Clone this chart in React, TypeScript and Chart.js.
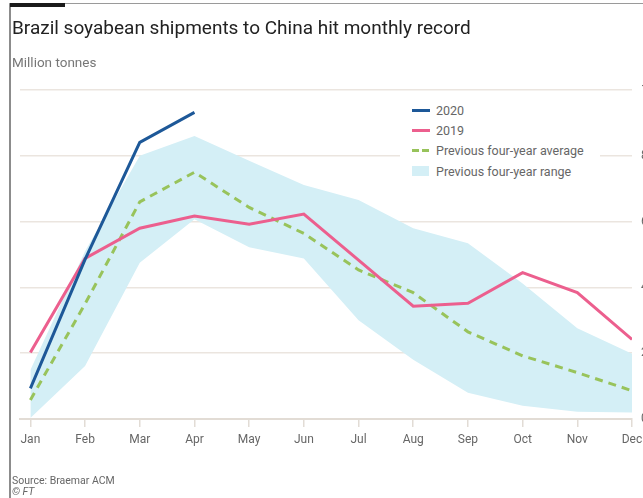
import React, { useEffect, useRef } from "react";
import { Chart, registerables } from "chart.js";

Chart.register(...registerables);

const MONTHS = ["Jan", "Feb", "Mar", "Apr", "May", "Jun", "Jul", "Aug", "Sep", "Oct", "Nov", "Dec"];
const SHIP_2020 = [0.93, 4.85, 8.41, 9.32];
const SHIP_2019 = [2.02, 4.88, 5.8, 6.17, 5.92, 6.23, 4.83, 3.43, 3.52, 4.45, 3.84, 2.42];
const AVG_4YR = [0.58, 3.5, 6.6, 7.5, 6.43, 5.64, 4.53, 3.84, 2.65, 1.92, 1.41, 0.86];
const RANGE_HIGH = [1.49, 5.1, 8.0, 8.6, 7.85, 7.11, 6.66, 5.8, 5.34, 4.12, 2.76, 1.98];
const RANGE_LOW = [0.03, 1.61, 4.75, 6.07, 5.22, 4.88, 3.0, 1.8, 0.8, 0.4, 0.22, 0.2];
const Y_MIN = 0;
const Y_MAX = 10;
const Y_STEP = 2;

const FONT = "Roboto, 'Noto Sans', sans-serif";
const C2020 = "#1d5898";
const C2019 = "#ec5f8e";
const CAVG = "#98c35b";
const CRANGE = "#d4eff6";
const GRID = "#ebe5df";
const TEXT = "#666666";

const pts = (arr: number[]) => arr.map((v, i) => ({ x: i, y: v }));

export default function App() {
  const ref = useRef<HTMLCanvasElement | null>(null);

  useEffect(() => {
    if (!ref.current) return;
    const chart = new Chart(ref.current, {
      type: "line",
      data: {
        datasets: [
          {
            label: "2020",
            data: pts(SHIP_2020),
            borderColor: C2020,
            borderWidth: 3,
            pointRadius: 0,
            fill: false,
            tension: 0,
          },
          {
            label: "2019",
            data: pts(SHIP_2019),
            borderColor: C2019,
            borderWidth: 3,
            pointRadius: 0,
            fill: false,
            tension: 0,
          },
          {
            label: "Previous four-year average",
            data: pts(AVG_4YR),
            borderColor: CAVG,
            borderWidth: 3,
            borderDash: [8, 6],
            pointRadius: 0,
            fill: false,
            tension: 0,
          },
          {
            label: "Previous four-year range",
            data: pts(RANGE_HIGH),
            borderWidth: 0,
            borderColor: "rgba(0,0,0,0)",
            backgroundColor: CRANGE,
            pointRadius: 0,
            fill: "+1",
            tension: 0,
          },
          {
            label: "range-low",
            data: pts(RANGE_LOW),
            borderWidth: 0,
            borderColor: "rgba(0,0,0,0)",
            pointRadius: 0,
            fill: false,
            tension: 0,
          },
        ],
      },
      options: {
        responsive: false,
        animation: false,
        layout: { padding: { left: 20, top: 90, right: 0, bottom: 39 } },
        plugins: { legend: { display: false }, tooltip: { enabled: false }, title: { display: false } },
        scales: {
          x: {
            type: "linear",
            min: -0.19,
            max: MONTHS.length - 1,
            afterBuildTicks: (scale: any) => {
              scale.ticks = MONTHS.map((_, i) => ({ value: i }));
            },
            afterFit: (scale: any) => {
              scale.height = 40;
            },
            grid: {
              display: true,
              drawOnChartArea: false,
              drawTicks: true,
              tickLength: 8,
              color: "#e2dcd5",
              lineWidth: 1.5,
            },
            border: { display: true, color: "#e2dcd5", width: 2 },
            ticks: {
              autoSkip: false,
              maxRotation: 0,
              padding: 6,
              color: TEXT,
              font: { family: FONT, size: 12 },
              callback: (v: any) => MONTHS[Math.round(Number(v))] ?? "",
            },
          },
          y: {
            position: "right",
            min: Y_MIN,
            max: Y_MAX,
            afterFit: (scale: any) => {
              scale.width = 40;
            },
            grid: { color: GRID, lineWidth: 1.5, drawTicks: false },
            border: { display: false },
            ticks: {
              stepSize: Y_STEP,
              padding: 9,
              color: TEXT,
              font: { family: FONT, size: 12 },
            },
          },
        },
      } as any,
    });
    return () => chart.destroy();
  }, []);

  const legendRow = (top: number, swatch: React.ReactNode, text: string) => (
    <div
      style={{
        position: "absolute",
        left: 12,
        top,
        height: 16,
        display: "flex",
        alignItems: "center",
        fontFamily: FONT,
        fontSize: 12.5,
        color: TEXT,
        whiteSpace: "nowrap",
      }}
    >
      <div style={{ width: 18, display: "flex", alignItems: "center" }}>{swatch}</div>
      <span style={{ marginLeft: 6 }}>{text}</span>
    </div>
  );

  return (
    <div
      style={{
        position: "fixed",
        left: 0,
        top: 0,
        width: 643,
        height: 498,
        overflow: "hidden",
        background: "#ffffff",
      }}
    >
      <canvas ref={ref} width={672} height={498} style={{ position: "absolute", left: 0, top: 0 }} />
      <div style={{ position: "absolute", left: 9, top: 3, width: 2, height: 495, background: "#8c8c8c" }} />
      <div style={{ position: "absolute", left: 9, top: 3, width: 634, height: 1, background: "#9a9a9a" }} />
      <div style={{ position: "absolute", left: 10, top: 3, width: 55, height: 4, background: "#1a1a1a" }} />
      <div
        style={{
          position: "absolute",
          left: 12,
          top: 18,
          fontFamily: FONT,
          fontSize: 19,
          lineHeight: "19px",
          color: "#222",
          whiteSpace: "nowrap",
        }}
      >
        Brazil soyabean shipments to China hit monthly record
      </div>
      <div
        style={{
          position: "absolute",
          left: 12,
          top: 56,
          fontFamily: FONT,
          fontSize: 13.5,
          lineHeight: "13.5px",
          color: "#777",
          whiteSpace: "nowrap",
        }}
      >
        Million tonnes
      </div>
      <div
        style={{
          position: "absolute",
          left: 400,
          top: 100,
          width: 200,
          height: 82,
          background: "#ffffff",
        }}
      >
        {legendRow(2, <div style={{ width: 18, height: 3, background: C2020 }} />, "2020")}
        {legendRow(22, <div style={{ width: 18, height: 3, background: C2019 }} />, "2019")}
        {legendRow(
          42,
          <div style={{ display: "flex", gap: 3 }}>
            <div style={{ width: 7, height: 3, background: CAVG }} />
            <div style={{ width: 7, height: 3, background: CAVG }} />
          </div>,
          "Previous four-year average"
        )}
        {legendRow(63, <div style={{ width: 17, height: 10, background: CRANGE }} />, "Previous four-year range")}
      </div>
      <div
        style={{
          position: "absolute",
          left: 12,
          top: 475,
          fontFamily: FONT,
          fontSize: 10.5,
          lineHeight: "11px",
          color: TEXT,
          whiteSpace: "nowrap",
        }}
      >
        Source: Braemar ACM
        <br />
        <span style={{ fontStyle: "italic" }}>© FT</span>
      </div>
    </div>
  );
}
